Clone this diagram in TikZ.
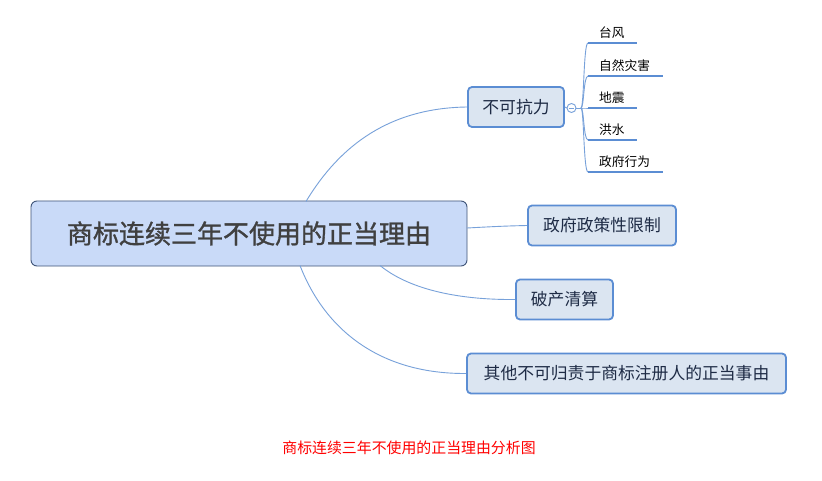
\documentclass[tikz,border=0pt]{standalone}
\usepackage{fontspec}
\newfontfamily\cjk{Noto Sans CJK SC}
\newfontfamily\cjkbold[FakeBold=1.2]{Noto Sans CJK SC}
\definecolor{centralfill}{HTML}{C9DAF8}
\definecolor{centralborder}{HTML}{3F5478}
\definecolor{centraltext}{HTML}{404040}
\definecolor{branchfill}{HTML}{DBE5F1}
\definecolor{branchborder}{HTML}{5B8DD3}
\definecolor{branchtext}{HTML}{1E2B45}
\definecolor{linkcol}{HTML}{77A1DA}
\definecolor{leafline}{HTML}{5B8DD3}
\definecolor{captioncol}{HTML}{FF0000}
\tikzset{
  central/.style={draw=centralborder, line width=0.9pt, fill=centralfill, rounded corners=6pt,
    minimum width=436pt, minimum height=65pt, inner sep=0pt, text=centraltext,
    font=\cjkbold\fontsize{26}{28}\selectfont},
  branch/.style={draw=branchborder, line width=1.8pt, fill=branchfill, rounded corners=4pt,
    minimum height=40pt, inner sep=0pt, text=branchtext,
    font=\cjk\fontsize{16.8}{18}\selectfont},
  link/.style={draw=linkcol, line width=0.9pt},
  leaftext/.style={anchor=west, inner sep=0pt, text=black, font=\cjk\fontsize{12.7}{14}\selectfont},
  leafbar/.style={draw=leafline, line width=2.8pt},
}
\begin{document}
\begin{tikzpicture}[x=1pt,y=-1pt]
\useasboundingbox (0,0) rectangle (822,481);
\fill[white] (0,0) rectangle (822,481);

% central node
\node[central] (C) at (249,233.5) {商标连续三年不使用的正当理由};

% branch nodes
\node[branch, minimum width=96pt] (B1) at (516,107) {不可抗力};
\node[branch, minimum width=148pt] (B2) at (602,225.5) {政府政策性限制};
\node[branch, minimum width=97pt] (B3) at (564.5,299.5) {破产清算};
\node[branch, minimum width=319pt] (B4) at (626.5,373.5) {其他不可归责于商标注册人的正当事由};

% start points on the central node
\coordinate (s1) at (306,201.5);
\coordinate (s2) at (467,228);
\coordinate (s3) at (380,265.5);
\coordinate (s4) at (300,265.5);

% connectors
\path[link] (s1) .. controls (340,145) and (390,108) .. (B1.west);
\path[link] (s2) .. controls (495,226.5) and (505,226) .. (B2.west);
\path[link] (s3) .. controls (410,290) and (460,300) .. (B3.west);
\path[link] (s4) .. controls (325,330) and (380,374) .. (B4.west);

% collapse indicator
\coordinate (hub) at (581,108);
\path[link] (B1.east) -- (567,108);
\node[circle, draw=linkcol, line width=0.9pt, fill=white, minimum size=9pt, inner sep=0pt] (K) at (571.5,108) {};
\draw[linkcol, line width=0.8pt] (568.8,108) -- (574.2,108);
\path[link] (K.east) -- (hub);

% leaves
\foreach \name/\txt/\ly/\len in {L1/台风/43/637, L2/自然灾害/76/663, L3/地震/108/637, L4/洪水/140/637, L5/政府行为/172/663} {
  \coordinate (\name s) at (588,\ly);
  \coordinate (\name e) at (\len,\ly);
  \node[leaftext] (\name) at (599,\ly-10.5) {\txt};
  \path[link] (hub) .. controls (584,108) and (583.5,\ly) .. (\name s);
  \path[leafbar] (\name s) -- (\name e);
}

% caption
\node[text=captioncol, inner sep=0pt, font=\cjk\fontsize{14.9}{16}\selectfont] (cap) at (409,448) {商标连续三年不使用的正当理由分析图};
\end{tikzpicture}
\end{document}
